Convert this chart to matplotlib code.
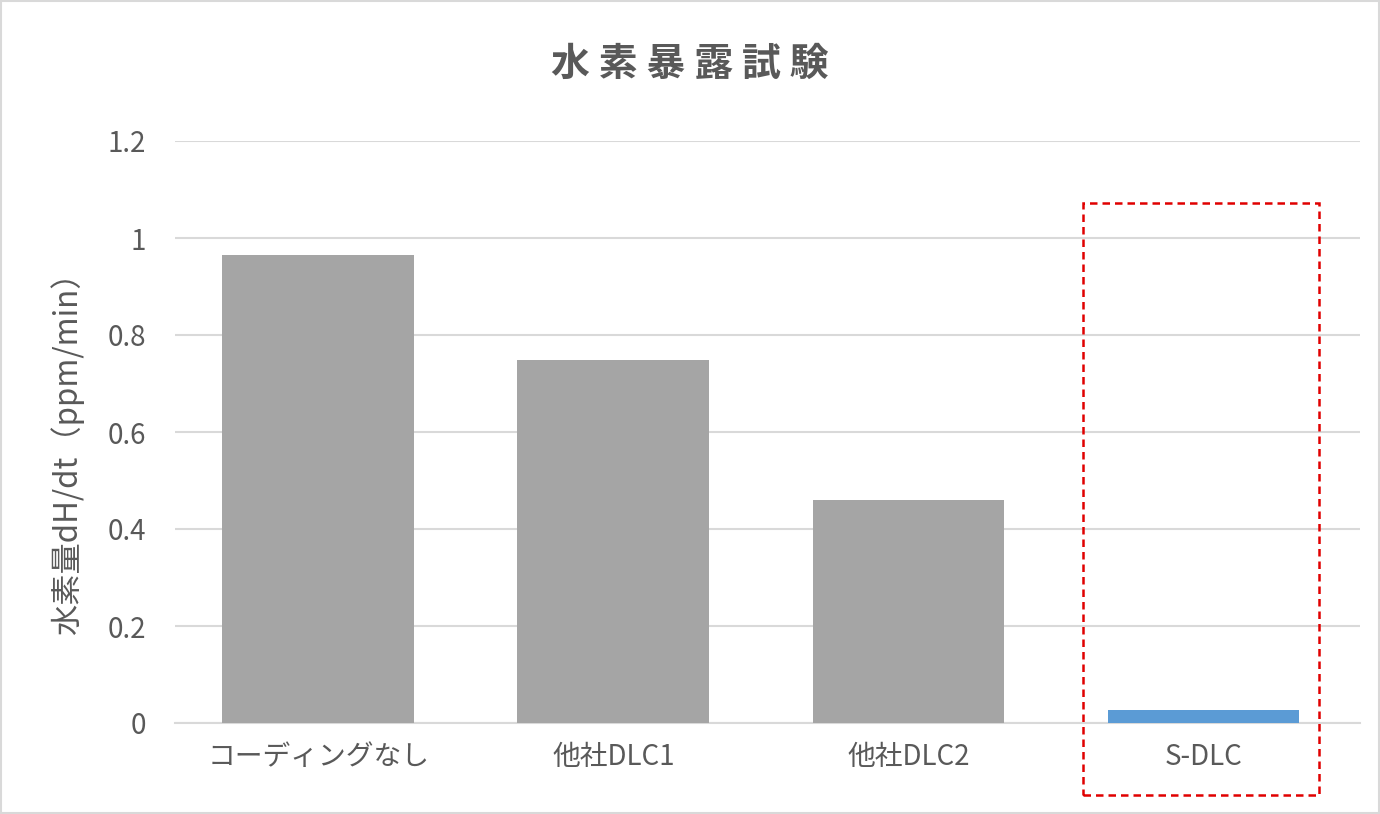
import matplotlib.pyplot as plt
from matplotlib.patches import Rectangle

plt.rcParams['font.family'] = ['Noto Sans CJK JP', 'DejaVu Sans']

categories = ['コーディングなし', '他社DLC1', '他社DLC2', 'S-DLC']
values = [0.965, 0.748, 0.46, 0.027]
bar_colors = ['#A5A5A5', '#A5A5A5', '#A5A5A5', '#5B9BD5']
yticks = [0, 0.2, 0.4, 0.6, 0.8, 1.0, 1.2]
ytick_labels = ['0', '0.2', '0.4', '0.6', '0.8', '1', '1.2']

text_color = '#595959'

fig = plt.figure(figsize=(13.8, 8.14), dpi=100)
ax = fig.add_axes([175 / 1380, 1 - 723 / 814, (1360 - 175) / 1380, (723 - 141) / 814])

x = list(range(len(categories)))
ax.bar(x, values, width=0.65, color=bar_colors, zorder=3)

ax.set_xlim(-0.485, 3.53)
ax.set_ylim(0, 1.2)
ax.set_yticks(yticks)
ax.set_yticklabels(ytick_labels)
ax.set_xticks(x)
ax.set_xticklabels(categories)
ax.tick_params(axis='both', length=0, colors=text_color, labelsize=20)
ax.tick_params(axis='y', pad=21)
ax.tick_params(axis='x', pad=14)
ax.grid(axis='y', color='#D9D9D9', linewidth=1.5, zorder=0)
for side in ['top', 'right', 'left']:
    ax.spines[side].set_visible(False)
ax.spines['bottom'].set_color('#D9D9D9')
ax.spines['bottom'].set_linewidth(1.5)

fig.text(67 / 1380, 1 - 446 / 814, '水素量dH/dt（ppm/min）', rotation=90,
         ha='center', va='center', fontsize=22.5, color=text_color)

fig.text(0.5, 1 - 64 / 814, '水 素 暴 露 試 験', ha='center', va='center',
         fontsize=28, fontweight='bold', color=text_color)

# red dashed highlight box around S-DLC
box = Rectangle((1083 / 1380, 1 - 795 / 814), (1319 - 1083) / 1380, (795 - 203) / 814,
                transform=fig.transFigure, fill=False, edgecolor='#E00000',
                linestyle=(0, (3, 2)), linewidth=1.8)
fig.patches.append(box)

# outer frame
frame = Rectangle((0.001, 0.001), 0.998, 0.998, transform=fig.transFigure,
                  fill=False, edgecolor='#D9D9D9', linewidth=1.5)
fig.patches.append(frame)

fig.savefig('out.png', dpi=100)
